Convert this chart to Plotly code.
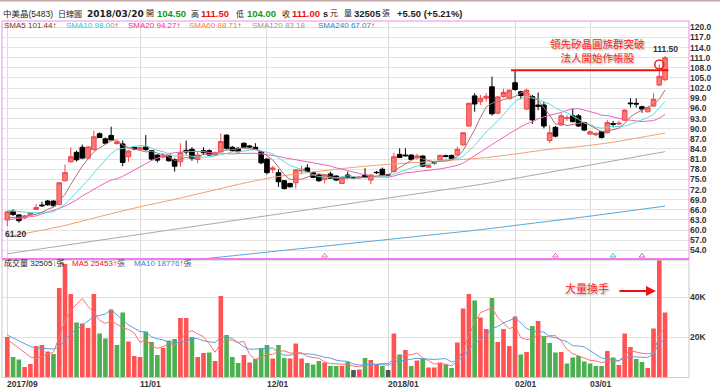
import plotly.graph_objects as go
import pandas as pd

# ---------------- data ----------------
opens = [63.0, 65.6, 64.5, 63.6, 64.5, 66.1, 67.4, 68.6, 68.6, 67.6,
         74.6, 80.2, 83.0, 84.5, 81.3, 83.8, 88.5, 87.0, 88.0, 85.6,
         85.5, 81.7, 84.5, 83.9, 84.6, 83.5, 82.2, 81.6, 81.9, 80.9,
         80.2, 83.6, 83.9, 80.9, 83.5, 83.5, 82.2, 83.2, 88.1, 84.5,
         84.2, 85.7, 84.9, 84.5, 83.2, 81.0, 77.9, 77.0, 74.6, 73.8,
         74.0, 77.5, 78.4, 77.0, 76.3, 75.0, 76.6, 76.0, 73.8, 76.3,
         75.6, 75.5, 76.3, 74.8, 77.1, 78.0, 76.3, 77.3, 82.4, 82.2,
         82.2, 81.5, 81.9, 78.6, 80.0, 80.8, 82.0, 82.1, 82.2, 85.2,
         90.8, 99.7, 98.0, 99.0, 102.4, 94.6, 99.5, 98.9, 103.6, 100.9,
         95.8, 99.5, 97.0, 97.0, 86.5, 90.4, 91.1, 93.0, 93.8, 93.8,
         91.8, 88.4, 88.2, 89.1, 88.8, 91.5, 91.4, 92.5, 97.6, 97.5,
         96.5, 95.0, 96.7, 102.9, 104.5]
highs = [65.7, 66.1, 64.7, 64.5, 65.4, 67.7, 68.4, 68.9, 68.8, 74.2,
         79.4, 84.5, 83.5, 85.3, 84.8, 89.4, 88.9, 87.4, 90.6, 86.4,
         86.5, 83.6, 84.8, 84.7, 88.1, 83.7, 82.4, 82.8, 82.1, 81.2,
         85.7, 86.5, 84.5, 83.2, 84.5, 83.9, 83.2, 88.6, 88.3, 84.9,
         84.5, 85.9, 85.2, 85.7, 83.5, 81.3, 79.0, 78.0, 74.8, 74.0,
         78.0, 79.0, 79.5, 77.3, 76.6, 76.5, 77.3, 76.2, 75.8, 77.3,
         75.8, 75.9, 78.3, 76.5, 77.5, 78.5, 76.6, 82.9, 84.2, 84.2,
         82.4, 82.6, 82.2, 79.4, 80.2, 82.3, 82.3, 82.3, 84.7, 89.0,
         97.7, 100.5, 100.0, 100.5, 105.4, 99.6, 101.8, 101.6, 107.3, 101.2,
         101.8, 100.0, 100.7, 98.0, 91.0, 90.8, 94.5, 94.0, 96.0, 94.3,
         92.0, 89.5, 88.9, 89.4, 92.5, 92.3, 92.3, 95.7, 99.0, 99.0,
         96.8, 96.3, 100.5, 109.0, 111.5]
lows = [61.2, 64.2, 62.2, 63.3, 64.3, 66.0, 66.9, 67.2, 66.9, 67.4,
        74.4, 80.0, 80.3, 81.0, 81.1, 83.6, 87.3, 85.5, 86.5, 85.3,
        78.9, 80.2, 83.6, 83.6, 83.5, 80.5, 80.0, 81.2, 80.3, 77.3,
        78.8, 82.4, 80.5, 79.8, 82.3, 82.0, 81.9, 82.9, 83.8, 83.2,
        83.0, 84.3, 84.3, 83.7, 79.5, 76.5, 76.9, 72.8, 72.0, 72.6,
        72.3, 76.5, 77.1, 75.4, 74.3, 73.8, 75.1, 74.5, 73.6, 75.3,
        75.3, 75.3, 75.4, 73.6, 76.6, 76.1, 76.0, 77.1, 81.3, 81.7,
        80.7, 80.9, 78.6, 78.4, 79.4, 80.6, 81.5, 80.8, 82.0, 85.0,
        90.5, 95.0, 97.0, 98.0, 93.9, 94.3, 99.2, 98.6, 101.2, 98.7,
        95.5, 91.4, 95.5, 90.1, 85.8, 87.4, 90.8, 92.3, 91.8, 90.5,
        89.3, 88.1, 87.8, 87.1, 88.6, 90.4, 91.0, 92.3, 96.3, 96.3,
        94.7, 94.8, 96.5, 102.6, 104.0]
closes = [65.4, 64.6, 62.8, 64.2, 65.2, 66.7, 67.2, 67.5, 67.2, 74.0,
          77.0, 81.7, 80.8, 81.3, 84.6, 87.6, 87.4, 85.7, 86.7, 86.1,
          80.0, 83.4, 84.0, 84.4, 83.8, 81.0, 80.7, 82.1, 80.5, 78.9,
          82.9, 83.1, 81.2, 82.2, 82.9, 82.2, 82.9, 86.2, 84.2, 83.5,
          83.2, 84.5, 84.6, 83.9, 79.9, 77.0, 78.4, 74.3, 72.3, 72.8,
          77.8, 78.0, 77.3, 75.6, 74.6, 76.3, 75.3, 74.8, 75.6, 75.5,
          75.5, 75.7, 75.6, 76.3, 77.0, 76.3, 76.3, 81.7, 81.5, 82.0,
          80.9, 81.9, 78.9, 79.2, 79.9, 82.1, 81.8, 81.0, 83.9, 88.8,
          97.5, 97.3, 99.0, 99.6, 94.4, 99.4, 100.7, 101.4, 101.6, 99.8,
          101.4, 92.6, 96.6, 90.8, 88.8, 87.8, 93.8, 93.3, 92.1, 90.8,
          89.6, 89.1, 88.6, 87.4, 91.8, 91.3, 91.6, 95.5, 97.4, 97.3,
          95.8, 96.2, 98.7, 105.5, 111.0]
volumes_k = [20.3, 10.3, 9.0, 5.3, 6.8, 15.7, 16.2, 13.0, 11.7, 44.7,
             56.7, 41.7, 27.5, 27.0, 24.7, 41.7, 22.0, 19.5, 34.0, 16.2,
             32.5, 18.0, 10.7, 10.3, 23.0, 17.7, 11.2, 14.8, 18.5, 19.2,
             29.7, 29.7, 20.2, 10.2, 12.2, 12.5, 8.2, 40.7, 21.2, 10.2,
             7.2, 11.2, 7.5, 9.2, 14.8, 16.2, 9.5, 16.2, 9.8, 9.5,
             17.0, 9.5, 7.2, 6.5, 8.2, 7.5, 5.7, 5.7, 5.7, 7.8,
             3.7, 4.0, 9.7, 8.8, 6.8, 5.8, 3.7, 22.0, 11.5, 13.7,
             5.7, 8.5, 9.3, 5.0, 5.0, 7.5, 6.5, 4.7, 17.5, 34.5,
             41.7, 38.5, 30.0, 24.3, 39.8, 17.7, 24.3, 15.7, 30.5, 11.5,
             12.7, 25.8, 28.3, 20.7, 17.2, 12.5, 12.8, 7.0, 10.0, 10.8,
             8.0, 7.0, 5.8, 5.8, 13.2, 10.0, 6.3, 22.0, 15.2, 9.3,
             7.8, 4.8, 24.5, 58.7, 32.505]

# moving-average values before a full window exists
sma5_head = [63.6, 63.8, 63.8, 64.0]
sma10_head = [65.8, 65.6, 65.4, 65.3, 65.2, 65.2, 65.2, 65.3, 65.4]
sma20_head = [63.0, 63.2, 63.4, 63.6, 63.8, 64.2, 64.8, 65.3, 65.7, 66.4,
              67.1, 67.9, 68.9, 70.1, 71.1, 72.1, 73.0, 74.0, 74.8]
vma5_head = [19.0, 16.8, 14.5, 12.3]
vma10_head = [21.2, 19.8, 18.3, 16.8, 15.5, 14.8, 14.6, 14.4, 14.2]

# long moving averages read at sample bars
sma60_idx = [0, 9, 16, 23, 29, 35, 40, 46, 52, 58, 64, 70, 76, 82, 88, 93, 99, 105, 110, 114]
sma60_val = [58.1, 61.0, 64.0, 66.9, 69.1, 71.5, 73.5, 75.6, 77.0, 78.2, 79.2, 79.9, 80.6,
             81.3, 82.5, 83.7, 84.7, 86.0, 87.5, 88.7]
sma120_idx = [0, 10, 20, 30, 40, 50, 60, 70, 82, 90, 100, 114]
sma120_val = [53.0, 55.5, 58.0, 60.5, 63.0, 65.5, 68.0, 70.6, 73.5, 75.9, 79.0, 83.2]
sma240_idx = [34, 40, 50, 60, 70, 82, 90, 100, 114]
sma240_val = [51.5, 52.6, 54.4, 56.2, 58.0, 60.1, 61.8, 63.9, 67.1]

# legend texts as printed on the chart
ma_names = ["SMA5", "SMA10", "SMA20", "SMA60", "SMA120", "SMA240"]
ma_legend_values = ["101.44", "98.00", "94.27", "88.71", "83.18", "67.07"]
vol_ma_legend_values = ["25453", "18776"]

signal_idx = [55, 95, 105, 110]
signal_colors = ["#f08080", "#ee66cc", "#33cccc", "#cc66cc"]

tick_idx = [0, 23, 45, 66, 88, 101]
tick_labels = ["2017/09", "11/01", "12/01", "2018/01", "02/01", "03/01"]
price_ticks = [54.0, 57.0, 60.0, 63.0, 66.0, 69.0, 72.0, 75.0, 78.0, 81.0, 84.0, 87.0,
               90.0, 93.0, 96.0, 99.0, 102.0, 105.0, 108.0, 111.0, 114.0, 117.0, 120.0]
vol_ticks = [20, 40]
vol_tick_labels = ["20K", "40K"]

# ---------------- derived series ----------------
n = len(closes)
idx = list(range(n))


def rolling_with_head(vals, w, head):
    r = pd.Series(vals).rolling(w).mean().tolist()
    return head + r[len(head):]


sma5 = rolling_with_head(closes, 5, sma5_head)
sma10 = rolling_with_head(closes, 10, sma10_head)
sma20 = rolling_with_head(closes, 20, sma20_head)
vma5 = rolling_with_head(volumes_k, 5, vma5_head)
vma10 = rolling_with_head(volumes_k, 10, vma10_head)

RED, GREEN, GRAY = "#ff5252", "#4caf50", "#555555"
vol_colors = []
for i in range(n):
    ref = opens[0] if i == 0 else closes[i - 1]
    vol_colors.append(RED if closes[i] > ref else (GREEN if closes[i] < ref else GRAY))

# ---------------- geometry ----------------
W, H = 720, 390
X0, X1 = 2 / W, 689 / W
price_dom = [(H - 259) / H, (H - 21) / H]
vol_dom = [(H - 377.5) / H, (H - 260) / H]
FONT = "Liberation Sans, Noto Sans CJK TC, sans-serif"
VFONT = "DejaVu Sans, Noto Sans CJK TC, sans-serif"
CJK = "Noto Sans CJK TC, sans-serif"

fig = go.Figure()

# moving average lines (under candles)
fig.add_trace(go.Scatter(x=sma240_idx, y=sma240_val, mode="lines",
                         line=dict(color="#55aadd", width=1), xaxis="x", yaxis="y"))
fig.add_trace(go.Scatter(x=sma120_idx, y=sma120_val, mode="lines",
                         line=dict(color="#aaaaaa", width=1), xaxis="x", yaxis="y"))
fig.add_trace(go.Scatter(x=sma60_idx, y=sma60_val, mode="lines", line_shape="spline",
                         line=dict(color="#f5a070", width=1), xaxis="x", yaxis="y"))
fig.add_trace(go.Scatter(x=idx, y=sma20, mode="lines",
                         line=dict(color="#f060c0", width=1), xaxis="x", yaxis="y"))
fig.add_trace(go.Scatter(x=idx, y=sma10, mode="lines",
                         line=dict(color="#60dada", width=1), xaxis="x", yaxis="y"))
fig.add_trace(go.Scatter(x=idx, y=sma5, mode="lines",
                         line=dict(color="#b07070", width=1), xaxis="x", yaxis="y"))

fig.add_trace(go.Candlestick(
    x=idx, open=opens, high=highs, low=lows, close=closes,
    increasing=dict(line=dict(color="#f04848", width=1), fillcolor="#ff7676"),
    decreasing=dict(line=dict(color="#000000", width=1), fillcolor="#000000"),
    whiskerwidth=0, xaxis="x", yaxis="y"))

# breakout marker on the big-volume day high
big_i = volumes_k.index(max(volumes_k))
fig.add_trace(go.Scatter(x=[big_i], y=[highs[big_i]], mode="markers",
                         marker=dict(symbol="circle-open", size=9, color="#ee2222",
                                     line=dict(width=1.5)),
                         xaxis="x", yaxis="y"))

# small signal triangles at the bottom of the price pane
fig.add_trace(go.Scatter(x=signal_idx, y=[price_ticks[0] - 1.6] * len(signal_idx),
                         mode="markers",
                         marker=dict(symbol="triangle-up-open", size=5, color=signal_colors,
                                     line=dict(width=1)),
                         xaxis="x", yaxis="y"))

# volume
fig.add_trace(go.Bar(x=idx, y=volumes_k, marker=dict(color=vol_colors, line=dict(width=0)),
                     width=0.8, xaxis="x2", yaxis="y2"))
fig.add_trace(go.Scatter(x=idx, y=vma5, mode="lines", line=dict(color="#ff7070", width=1),
                         xaxis="x2", yaxis="y2"))
fig.add_trace(go.Scatter(x=idx, y=vma10, mode="lines", line=dict(color="#5aa0dd", width=1),
                         xaxis="x2", yaxis="y2"))

xr = [-0.92, 118.15]
axis_font = dict(family=FONT, size=8.5, color="#333333", weight="bold")

fig.update_layout(
    width=W, height=H, margin=dict(l=0, r=0, t=0, b=0),
    paper_bgcolor="white", plot_bgcolor="white", showlegend=False,
    boxgap=0.0, boxgroupgap=0.2,
    xaxis=dict(domain=[X0, X1], range=xr, anchor="y", tickvals=tick_idx, showticklabels=False,
               showgrid=True, gridcolor="#dadada", gridwidth=1, zeroline=False,
               rangeslider=dict(visible=False), ticks=""),
    xaxis2=dict(domain=[X0, X1], range=xr, anchor="y2", matches="x", tickvals=tick_idx,
                showticklabels=False, showgrid=True, gridcolor="#dadada", zeroline=False,
                ticks=""),
    yaxis=dict(domain=price_dom, range=[51.45, 121.86], side="right", anchor="x",
               tickvals=price_ticks, ticktext=[f"{v:.1f}" for v in price_ticks],
               showgrid=True, gridcolor="#e3e3e3", zeroline=False, ticks="",
               tickfont=axis_font),
    yaxis2=dict(domain=vol_dom, range=[0, 58.75], side="right", anchor="x2",
                tickvals=vol_ticks, ticktext=vol_tick_labels, showgrid=True,
                gridcolor="#e0e0e0", zeroline=False, ticks="", tickfont=axis_font),
)

shapes = [
    dict(type="rect", xref="paper", yref="paper", x0=X0, x1=X1, y0=vol_dom[0], y1=vol_dom[1],
         line=dict(color="#c8c8c8", width=1)),
    dict(type="rect", xref="paper", yref="paper", x0=X0, x1=X1, y0=price_dom[0], y1=price_dom[1],
         line=dict(color="#e88ee8", width=1)),
    dict(type="line", xref="paper", yref="paper", x0=X0, x1=X1, y0=price_dom[0], y1=price_dom[0],
         line=dict(color="#f07af0", width=2)),
    dict(type="line", xref="paper", yref="paper", x0=0, x1=1, y0=1 - 0.8 / H, y1=1 - 0.8 / H,
         line=dict(color="#c4a8a8", width=1.5)),
]
# previous-high breakout line
prev_hi_i = max(range(80, 100), key=lambda k: highs[k])
shapes.append(dict(type="line", xref="x", yref="y", x0=prev_hi_i - 0.7, x1=n - 0.4,
                   y0=highs[prev_hi_i], y1=highs[prev_hi_i],
                   line=dict(color="#ee1111", width=2)))
fig.update_layout(shapes=shapes)

ann = []


def txt(x, y, s, color="#222222", size=8, family=FONT, bold=False, anchor="left"):
    ann.append(dict(xref="paper", yref="paper", x=x / W, y=1 - y / H, text=s,
                    xanchor=anchor, yanchor="middle", showarrow=False, borderpad=0,
                    font=dict(family=family, size=size, color=color,
                              weight="bold" if bold else "normal")))


G, R = "#119911", "#ee1111"
# header
txt(2, 14, "中美晶(5483)", size=8.5)
txt(57, 14, "日線圖", size=8)
txt(86, 14, "2018/03/20", size=9, family=VFONT, bold=True)
txt(145, 14, "開", size=8)
txt(156, 14, f"{opens[-1]:.2f}", color=G, size=9.5, bold=True)
txt(190, 14, "高", size=8)
txt(200, 14, f"{highs[-1]:.2f}", color=R, size=9.5, bold=True)
txt(235, 14, "低", size=8)
txt(246, 14, f"{lows[-1]:.2f}", color=G, size=9.5, bold=True)
txt(281, 14, "收", size=8)
txt(291, 14, f"{closes[-1]:.2f}", color=R, size=9.5, bold=True)
txt(322, 14, "s", size=9, bold=True)
txt(329, 14, "元", size=8)
txt(343, 14, "量", size=8)
txt(353, 14, f"{round(volumes_k[-1] * 1000)}", size=9.5, bold=True)
txt(381, 14, "張", size=8)
chg = closes[-1] - closes[-2]
txt(396, 14, f"+{chg:.2f} (+{chg / closes[-2] * 100:.2f}%)", size=9.5, bold=True)

# MA legend
up = f"<span style='color:{R}'>↑</span>"
ma_x = [3, 65, 127, 188, 251, 317]
ma_cols = ["#8b2a2a", "#22cccc", "#ff2299", "#ff7a40", "#999999", "#1a8ad8"]
for name, val, xx, col in zip(ma_names, ma_legend_values, ma_x, ma_cols):
    arrow = "" if name == "SMA120" else up
    txt(xx, 26, f"{name} {val}{arrow}", color=col, size=8)

# volume legend
txt(3, 263, f"成交量 {round(volumes_k[-1] * 1000)}<span style='color:{G}'>↓</span>張", size=8)
txt(71, 263, f"MA5 {vol_ma_legend_values[0]}{up}<span style='color:#557'>張</span>", color=R, size=8)
txt(133, 263, f"MA10 {vol_ma_legend_values[1]}{up}<span style='color:#557'>張</span>",
    color="#2a8ad8", size=8)

# x-axis labels
for ti, tl in zip(tick_idx, tick_labels):
    ann.append(dict(xref="x", yref="paper", x=ti, y=1 - 384 / H, text=tl, xanchor="left",
                    yanchor="middle", xshift=-1, showarrow=False, borderpad=0,
                    font=dict(family=FONT, size=8.5, color="#333333", weight="bold")))

# high / low value labels
ann.append(dict(xref="x", yref="y", x=n - 1, y=highs[-1], text=f"{highs[-1]:.2f}",
                xanchor="center", yanchor="bottom", yshift=0, showarrow=False,
                font=dict(family=FONT, size=8.5, color="#333333", weight="bold")))
lo_i = lows.index(min(lows))
ann.append(dict(xref="x", yref="y", x=lo_i, y=lows[lo_i], text=f"{lows[lo_i]:.2f}",
                xanchor="left", yanchor="top", xshift=-4, yshift=-1, showarrow=False,
                font=dict(family=FONT, size=8.5, color="#333333", weight="bold")))

# comments
shadow = "0px 0px 2px #ffffff, 1px 1px 2px #888888"
ann.append(dict(xref="paper", yref="paper", x=597 / W, y=1 - 51 / H,
                text="領先矽晶圓族群突破<br>法人開始作帳股",
                showarrow=False, xanchor="center", yanchor="middle", borderpad=0,
                font=dict(family=CJK, size=10.5, color="#ff2222", shadow=shadow)))
ann.append(dict(xref="paper", yref="paper", x=587 / W, y=1 - 288 / H, text="大量換手",
                showarrow=False, xanchor="center", yanchor="middle",
                font=dict(family=CJK, size=11, color="#ff2222", shadow=shadow)))
ann.append(dict(xref="paper", yref="paper", x=656 / W, y=1 - 291 / H, ax=-38, ay=0, text="",
                showarrow=True, arrowhead=2, arrowsize=1, arrowwidth=2, arrowcolor="#ee1111"))

fig.update_layout(annotations=ann)
# the page's default 8px body margin would shift the chart; remove it
fig.write_html("out.html", config={"displayModeBar": False},
               post_script="document.body.style.margin='0px';")
